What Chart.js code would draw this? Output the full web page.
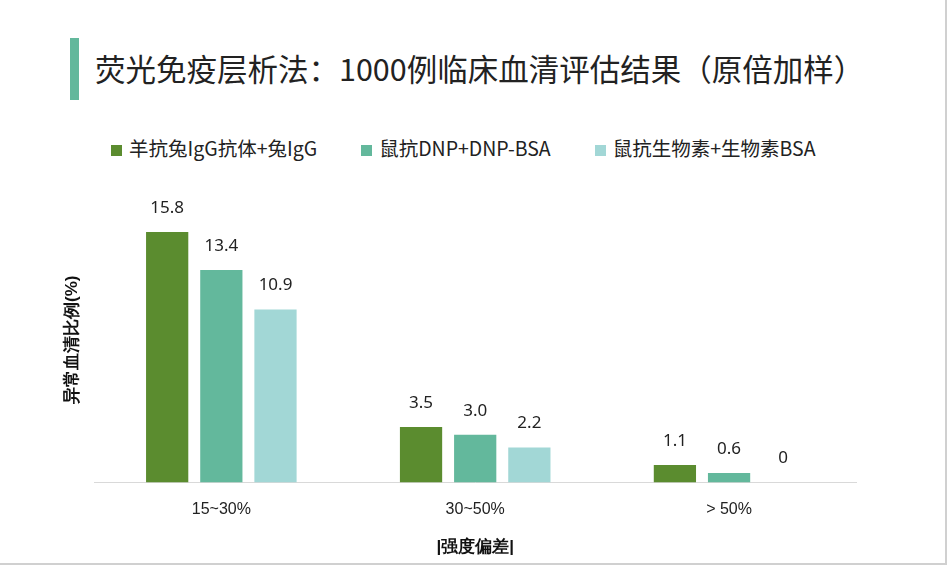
<!DOCTYPE html>
<html><head><meta charset="utf-8">
<script src="https://cdn.jsdelivr.net/npm/chart.js@4/dist/chart.umd.min.js"></script>
<style>
  body { margin:0; background:#fff; font-family:"Noto Sans CJK SC","Noto Sans",sans-serif; }
  #wrap { position:relative; width:949px; height:567px; overflow:hidden; }
  #frame { position:absolute; left:0; top:0; width:945px; height:563px; border-right:2px solid #d0d0d0; border-bottom:2px solid #d0d0d0; }
  #bar { position:absolute; left:70px; top:38px; width:9px; height:62px; background:#63b89c; }
  #title { position:absolute; left:95px; top:46px; font-size:30.5px; color:#222; white-space:nowrap; }
  #legend { position:absolute; left:111px; top:133px; font-size:19.5px; color:#222; white-space:nowrap; }
  #legend span.item { display:inline-block; margin-right:44px; }
  #legend i { display:inline-block; width:11px; height:11px; margin-right:7px; }
  canvas { position:absolute; left:0; top:0; }
</style></head>
<body><div id="wrap">
<div id="frame"></div>
<div id="bar"></div>
<div id="title">荧光免疫层析法：1000例临床血清评估结果（原倍加样）</div>
<div id="legend"></div>
<canvas id="c" width="949" height="567"></canvas>
</div>
<script>
// 数据
const categories = ['15~30%', '30~50%', '> 50%'];
const seriesNames = ['羊抗兔IgG抗体+兔IgG', '鼠抗DNP+DNP-BSA', '鼠抗生物素+生物素BSA'];
const rabbitIgG = [15.8, 3.5, 1.1];
const dnp = [13.4, 3.0, 0.6];
const biotin = [10.9, 2.2, 0];
const colors = ['#5b8c2f', '#63b89c', '#a2d7d6'];
const labelText = [['15.8','3.5','1.1'], ['13.4','3.0','0.6'], ['10.9','2.2','0']];

const legend = document.getElementById('legend');
seriesNames.forEach((n, i) => {
  legend.innerHTML += '<span class="item"><i style="background:' + colors[i] + '"></i>' + n + '</span>';
});

// 柱顶数值
const valueLabels = {
  id: 'valueLabels',
  afterDatasetsDraw(chart) {
    const ctx = chart.ctx;
    ctx.save();
    ctx.font = '17px "Noto Sans", sans-serif';
    ctx.fillStyle = '#222';
    ctx.textAlign = 'center';
    ctx.textBaseline = 'middle';
    chart.data.datasets.forEach((ds, i) => {
      chart.getDatasetMeta(i).data.forEach((bar, j) => {
        ctx.fillText(labelText[i][j], bar.x, bar.y - 24);
      });
    });
    ctx.restore();
  }
};

new Chart(document.getElementById('c'), {
  type: 'bar',
  data: {
    labels: categories,
    datasets: [
      { label: seriesNames[0], data: rabbitIgG, backgroundColor: colors[0] },
      { label: seriesNames[1], data: dnp, backgroundColor: colors[1] },
      { label: seriesNames[2], data: biotin, backgroundColor: colors[2] }
    ]
  },
  options: {
    responsive: false,
    animation: false,
    layout: { padding: { left: 58, right: 93, top: 197, bottom: 9 } },
    datasets: { bar: { categoryPercentage: 0.64, barPercentage: 0.78 } },
    plugins: { legend: { display: false }, tooltip: { enabled: false } },
    scales: {
      x: {
        grid: { display: false, drawTicks: false },
        border: { color: '#d9d9d9' },
        ticks: { color: '#222', font: { size: 16 }, padding: 18 },
        title: { display: true, text: '|强度偏差|', color: '#111', font: { size: 17, weight: 'bold' }, padding: 0 }
      },
      y: {
        min: 0, max: 18,
        grid: { display: false },
        border: { display: false },
        ticks: { display: false },
        title: { display: true, text: '异常血清比例(%)', color: '#111', font: { size: 17, weight: 'bold' } }
      }
    }
  },
  plugins: [valueLabels]
});
</script>
</body></html>
